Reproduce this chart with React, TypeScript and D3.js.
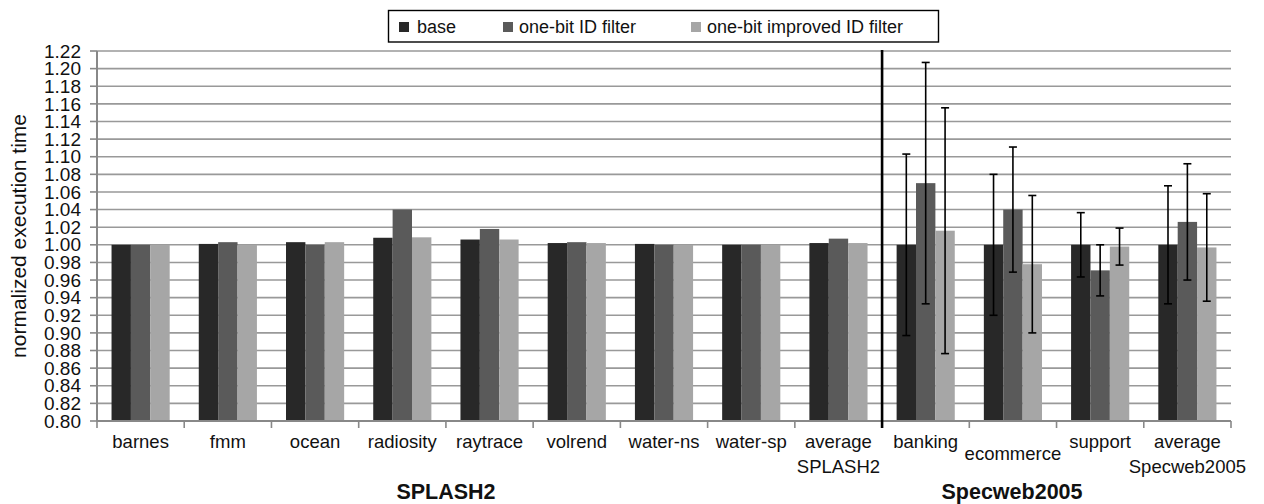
import React from "react";
import * as d3 from "d3";

// Benchmarks (multi-line labels use "\n")
const categories = [
  "barnes",
  "fmm",
  "ocean",
  "radiosity",
  "raytrace",
  "volrend",
  "water-ns",
  "water-sp",
  "average\nSPLASH2",
  "banking",
  "ecommerce",
  "support",
  "average\nSpecweb2005",
];

const seriesNames = ["base", "one-bit ID filter", "one-bit improved ID filter"];

const baseValues = [1.0, 1.001, 1.003, 1.008, 1.006, 1.002, 1.001, 1.0, 1.002, 1.0, 1.0, 1.0, 1.0];
const filterValues = [1.0, 1.003, 1.0, 1.04, 1.018, 1.003, 1.0, 1.0, 1.007, 1.07, 1.04, 0.971, 1.026];
const improvedValues = [1.0, 1.0, 1.003, 1.0085, 1.006, 1.002, 1.0, 1.0, 1.002, 1.016, 0.978, 0.998, 0.997];

// Error bar half-widths (only the Specweb2005 runs have them)
const baseErrors = [null, null, null, null, null, null, null, null, null, 0.103, 0.08, 0.0365, 0.067];
const filterErrors = [null, null, null, null, null, null, null, null, null, 0.137, 0.071, 0.029, 0.066];
const improvedErrors = [null, null, null, null, null, null, null, null, null, 0.1395, 0.078, 0.021, 0.061];

const yTicks = d3.range(0, 22).map((i) => +(0.8 + i * 0.02).toFixed(2));

const groups = [
  { name: "SPLASH2", x: 446 },
  { name: "Specweb2005", x: 1012 },
];

const colors = ["#282828", "#5a5a5a", "#a6a6a6"];
const FONT = "'Liberation Sans', Arial, sans-serif";

export default function App() {
  const W = 1264;
  const H = 504;
  const left = 97;
  const right = 1231;
  const top = 51;
  const bottom = 421;

  const y = d3.scaleLinear().domain([0.8, 1.22]).range([bottom, top]);
  const x = d3.scaleBand<string>().domain(categories).range([left, right]).padding(0);
  const bw = x.bandwidth();
  const groupW = bw * (3 / 4.5);
  const inner = d3.scaleBand<string>().domain(seriesNames).range([0, groupW]).padding(0);

  const values = [baseValues, filterValues, improvedValues];
  const errors = [baseErrors, filterErrors, improvedErrors];

  const boundaries = d3.range(0, categories.length + 1).map((i) => left + i * bw);
  const dividerX = left + 9 * bw;

  const legendItems = [
    { sx: 399, tx: 417 },
    { sx: 503, tx: 519 },
    { sx: 691, tx: 707 },
  ];

  return (
    <svg
      width={W}
      height={H}
      style={{ position: "absolute", left: 0, top: 0, background: "#fff" }}
      fontFamily={FONT}
    >
      {/* gridlines */}
      {yTicks.slice(1).map((t) => (
        <line key={t} x1={left} x2={right} y1={y(t)} y2={y(t)} stroke="#999" strokeWidth={1.6} />
      ))}

      {/* bars */}
      {values.map((vals, s) =>
        vals.map((v, i) => {
          const bx = (x(categories[i]) as number) + (bw - groupW) / 2 + (inner(seriesNames[s]) as number);
          return (
            <rect
              key={`${s}-${i}`}
              x={bx}
              y={y(v)}
              width={inner.bandwidth()}
              height={y(0.8) - y(v)}
              fill={colors[s]}
            />
          );
        })
      )}

      {/* error bars */}
      {errors.map((errs, s) =>
        errs.map((e, i) => {
          if (e == null) return null;
          const v = values[s][i];
          const cx =
            (x(categories[i]) as number) +
            (bw - groupW) / 2 +
            (inner(seriesNames[s]) as number) +
            inner.bandwidth() / 2;
          const y1 = y(v + e);
          const y2 = y(v - e);
          return (
            <g key={`e${s}-${i}`} stroke="#000" strokeWidth={1.6}>
              <line x1={cx} x2={cx} y1={y1} y2={y2} />
              <line x1={cx - 4} x2={cx + 4} y1={y1} y2={y1} />
              <line x1={cx - 4} x2={cx + 4} y1={y2} y2={y2} />
            </g>
          );
        })
      )}

      {/* y axis */}
      <line x1={left} x2={left} y1={top} y2={bottom} stroke="#888" strokeWidth={2} />
      {yTicks.map((t) => (
        <g key={`yt${t}`}>
          <line x1={left - 7} x2={left} y1={y(t)} y2={y(t)} stroke="#888" strokeWidth={1.6} />
          <text
            x={81}
            y={y(t)}
            dy="0.35em"
            textAnchor="end"
            fontSize={19}
            fill="#111"
          >
            {t.toFixed(2)}
          </text>
        </g>
      ))}

      {/* x axis */}
      <line x1={left} x2={right} y1={bottom} y2={bottom} stroke="#888" strokeWidth={2} />
      {boundaries.map((b, i) => (
        <line key={`xt${i}`} x1={b} x2={b} y1={bottom} y2={bottom + 7} stroke="#888" strokeWidth={1.6} />
      ))}

      {/* category labels */}
      {categories.map((c, i) => {
        const cx = (x(c) as number) + bw / 2;
        const lines = c.split("\n");
        const baseY = c === "ecommerce" ? 460 : 448;
        return (
          <text key={`xl${i}`} x={cx} y={baseY} textAnchor="middle" fontSize={18.5} fill="#111">
            {lines.map((l, j) => (
              <tspan key={j} x={cx} dy={j === 0 ? 0 : 25}>
                {l}
              </tspan>
            ))}
          </text>
        );
      })}

      {/* suite labels */}
      {groups.map((g) => (
        <text
          key={g.name}
          x={g.x}
          y={499}
          textAnchor="middle"
          fontSize={21.5}
          fontWeight="bold"
          fill="#111"
        >
          {g.name}
        </text>
      ))}

      {/* suite divider */}
      <line x1={dividerX} x2={dividerX} y1={50} y2={428} stroke="#000" strokeWidth={2.6} />

      {/* y axis title */}
      <text
        transform={`translate(26, 236) rotate(-90)`}
        textAnchor="middle"
        fontSize={21}
        fill="#111"
      >
        normalized execution time
      </text>

      {/* legend */}
      <rect x={388.5} y={10.5} width={550} height={31.5} fill="#fff" stroke="#000" strokeWidth={1.4} />
      {seriesNames.map((n, i) => (
        <g key={n}>
          <rect x={legendItems[i].sx} y={22} width={10} height={10} fill={colors[i]} />
          <text x={legendItems[i].tx} y={32.5} fontSize={18} fill="#111">
            {n}
          </text>
        </g>
      ))}
    </svg>
  );
}
